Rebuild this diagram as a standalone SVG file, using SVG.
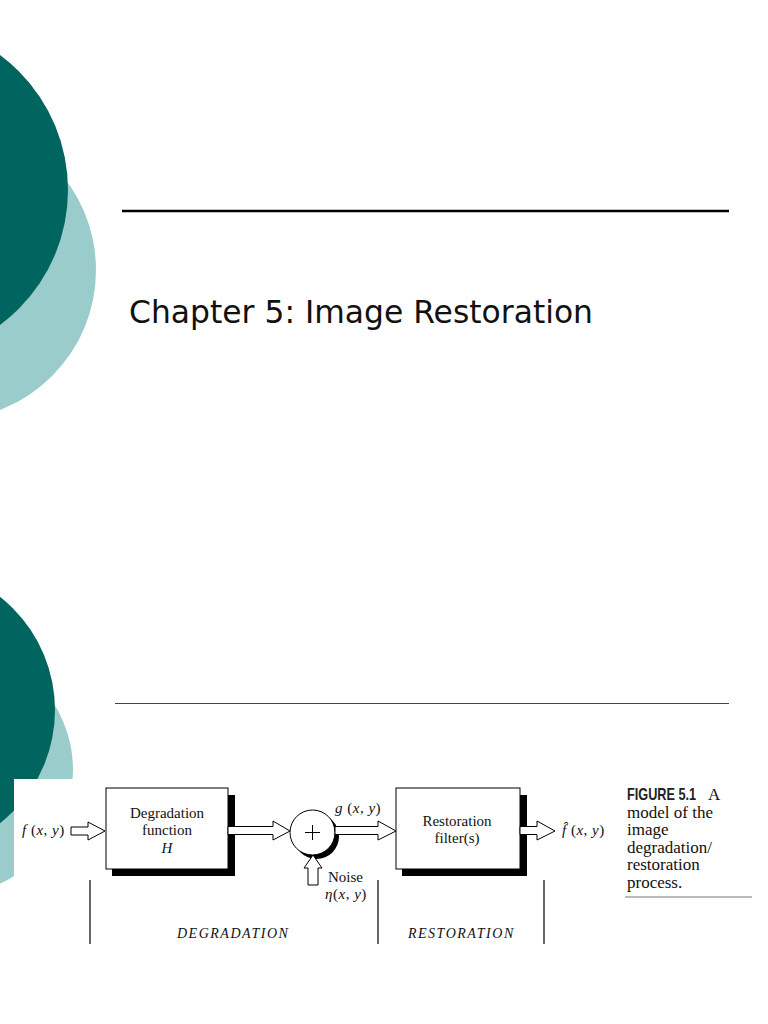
<svg xmlns="http://www.w3.org/2000/svg" width="768" height="1024" viewBox="0 0 768 1024">
<style>
.dark{fill:#00645f}
.light{fill:#9bcccc}
.serif{font-family:"Liberation Serif","Times New Roman",serif;fill:#111}
.it{font-style:italic}
.math{letter-spacing:0.5px}
.box{fill:#fff;stroke:#000;stroke-width:1}
.shadow{fill:#000}
.arrow{fill:#fff;stroke:#000;stroke-width:1;stroke-linejoin:miter}
.vline{stroke:#000;stroke-width:1.2}
</style>
<rect width="768" height="1024" fill="#fff"/>
<g id="decor-top">
<circle class="light" cx="-54" cy="270" r="150"/>
<circle class="dark" cx="-100" cy="190" r="168"/>
</g>
<g id="decor-bottom">
<circle class="light" cx="-52" cy="770" r="125"/>
<circle class="dark" cx="-89" cy="710" r="144"/>
</g>
<line x1="122" y1="211" x2="729" y2="211" stroke="#000" stroke-width="2.5"/>
<text id="title" x="129" y="323" font-family="DejaVu Sans, Verdana, sans-serif" font-size="31.5" fill="#111" textLength="464" lengthAdjust="spacingAndGlyphs">Chapter 5: Image Restoration</text>
<line x1="115" y1="703.5" x2="729" y2="703.5" stroke="#444" stroke-width="1.2"/>
<rect x="14" y="779" width="754" height="170" fill="#fff"/>

<g id="input">
<text class="serif math" x="22" y="835" font-size="15"><tspan class="it">f</tspan> (<tspan class="it">x</tspan>, <tspan class="it">y</tspan>)</text>
</g>
<g id="degradation">
<rect class="shadow" x="112" y="795" width="123" height="81"/>
<rect class="box" x="106" y="788" width="122" height="81"/>
<text class="serif" x="167" y="818" font-size="15" text-anchor="middle">Degradation</text>
<text class="serif" x="167" y="835" font-size="15" text-anchor="middle">function</text>
<text class="serif it" x="167" y="853" font-size="15" text-anchor="middle">H</text>
</g>
<g id="sum">
<circle class="shadow" cx="316.5" cy="836.5" r="22.5"/>
<circle cx="312.5" cy="832.5" r="22.5" fill="#fff" stroke="#000" stroke-width="1"/>
<line x1="305" y1="832.5" x2="320" y2="832.5" stroke="#000" stroke-width="1"/>
<line x1="312.5" y1="825" x2="312.5" y2="840" stroke="#000" stroke-width="1"/>
</g>
<g id="noise">
<text class="serif" x="328" y="882" font-size="15">Noise</text>
<text class="serif math" x="325" y="899" font-size="15"><tspan class="it">η</tspan>(<tspan class="it">x</tspan>, <tspan class="it">y</tspan>)</text>
</g>
<g id="restoration">
<rect class="shadow" x="402" y="795" width="125" height="81"/>
<rect class="box" x="396" y="788" width="124" height="81"/>
<text class="serif" x="457" y="826" font-size="15" text-anchor="middle">Restoration</text>
<text class="serif" x="457" y="843" font-size="15" text-anchor="middle">filter(s)</text>
</g>
<g id="output">
<text class="serif math" x="562" y="835" font-size="15"><tspan class="it">f̂</tspan> (<tspan class="it">x</tspan>, <tspan class="it">y</tspan>)</text>
</g>
<g id="connectors">
<polygon class="arrow" points="71,827 88,827 88,822 105,831 88,840 88,835 71,835"/>
<polygon class="arrow" points="228,826.5 273,826.5 273,821 290,831 273,840 273,834.5 228,834.5"/>
<polygon class="arrow" points="335,826.5 378,826.5 378,821 396,831 378,840 378,834.5 335,834.5"/>
<polygon class="arrow" points="520,826.5 537,826.5 537,821 555,831 537,840 537,834.5 520,834.5"/>
<polygon class="arrow" points="308,885 308,868 304,868 313,855 322,868 318,868 318,885"/>
<text class="serif math" x="335" y="813" font-size="15"><tspan class="it">g</tspan> (<tspan class="it">x</tspan>, <tspan class="it">y</tspan>)</text>
</g>
<g id="sections">
<line class="vline" x1="90" y1="880" x2="90" y2="944"/>
<line class="vline" x1="378" y1="880" x2="378" y2="944"/>
<line class="vline" x1="544" y1="880" x2="544" y2="944"/>
<text class="serif it" x="177" y="938" font-size="14" letter-spacing="1.5">DEGRADATION</text>
<text class="serif it" x="408" y="938" font-size="14" letter-spacing="1.5">RESTORATION</text>
</g>
<g id="caption">
<text transform="translate(627,800) scale(0.77,1)" font-family="Liberation Sans, Arial, sans-serif" font-weight="bold" font-size="16.5" fill="#222">FIGURE 5.1</text>
<text class="serif" font-size="17"><tspan x="708" y="800">A</tspan><tspan x="627" y="817.5">model of the</tspan><tspan x="627" y="835">image</tspan><tspan x="627" y="852.5">degradation/</tspan><tspan x="627" y="870">restoration</tspan><tspan x="627" y="887.5">process.</tspan></text>
<line x1="625" y1="897" x2="752" y2="897" stroke="#bbb" stroke-width="2"/>
</g>
</svg>
